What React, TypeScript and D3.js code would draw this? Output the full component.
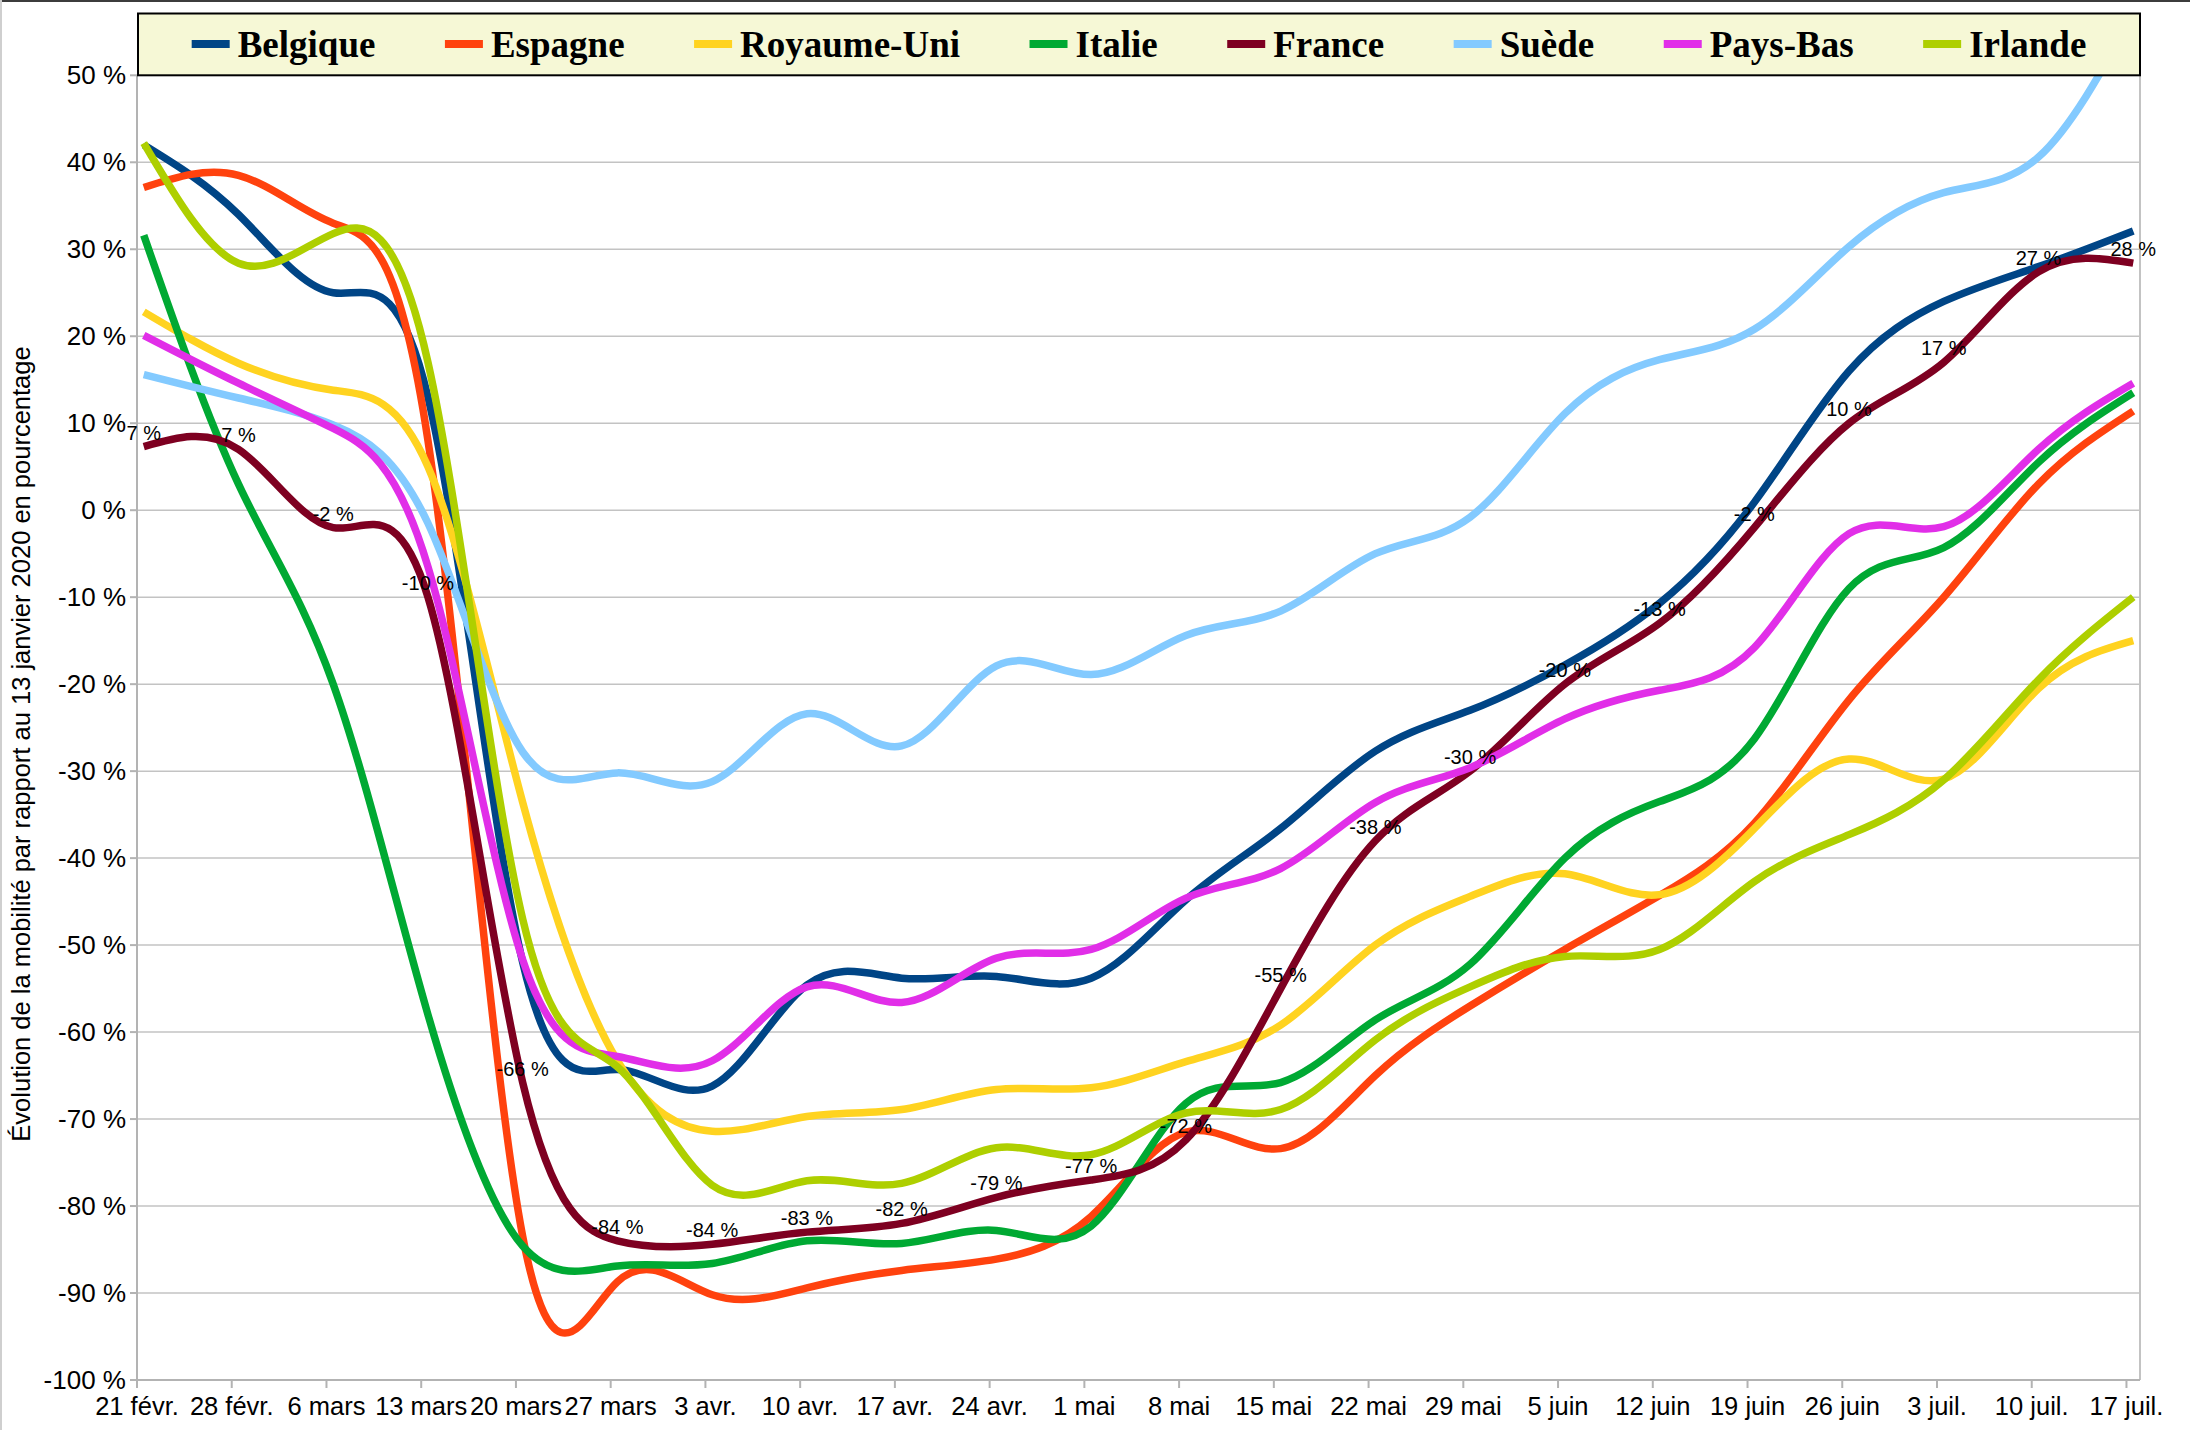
import React, { useEffect } from "react";
import * as d3 from "d3";

const CATEGORIES = [
  "21 févr.", "28 févr.", "6 mars", "13 mars", "20 mars", "27 mars", "3 avr.",
  "10 avr.", "17 avr.", "24 avr.", "1 mai", "8 mai", "15 mai", "22 mai",
  "29 mai", "5 juin", "12 juin", "19 juin", "26 juin", "3 juil.", "10 juil.", "17 juil.",
];

const BELGIQUE = [42, 34, 25, 13, -52, -64.3, -66.2, -54.6, -53.8, -53.6, -53.8, -44.8, -36.6, -27.7, -23, -17.8, -10.7, 0.9, 16, 24, 28, 32.1];
const ESPAGNE = [37.1, 38.5, 33, 8, -83.5, -88.7, -90.2, -89.4, -87.4, -86.1, -81.2, -71.5, -73.4, -65, -57, -50.5, -44.3, -36, -21.8, -10, 3, 11.4];
const ROYAUME_UNI = [22.8, 16.9, 13.8, 5, -33.6, -63.3, -71.4, -69.7, -68.9, -66.6, -66.4, -63.4, -59.2, -50, -44.4, -41.8, -44.2, -36.6, -28.6, -30.9, -20.5, -15];
const ITALIE = [31.6, 3, -20, -58, -84.6, -86.9, -86.6, -84, -84.3, -82.8, -82.3, -68.2, -65.8, -58.6, -52.2, -40, -33.5, -26.3, -9, -4.3, 5.5, 13.5];
const FRANCE = [7.3, 7, -2, -10, -65.8, -84, -84.4, -83, -82, -79, -77, -72.4, -55, -38, -30, -20, -13, -2, 10, 17, 27.4, 28.4];
const SUEDE = [15.6, 12.9, 9.8, -1.5, -27.8, -30.2, -31.2, -23.4, -27.1, -17.9, -18.9, -14.4, -11.6, -5, -0.8, 11.1, 17.3, 20.8, 30.3, 36.5, 40.6, 57];
const PAYS_BAS = [20.1, 14.6, 9.4, -6.5, -51.7, -62.8, -63.3, -54.8, -56.6, -51.5, -50.5, -44.6, -41.2, -33.6, -29.6, -24, -20.7, -15.8, -2.7, -1.9, 7, 14.6];
const IRLANDE = [42.2, 28.4, 31.8, 17, -47, -64, -77.6, -77.1, -77.4, -73.3, -74.1, -69.3, -68.9, -60.9, -54.8, -51.3, -50.5, -42.7, -37.3, -31, -19.5, -10];

const SERIES_NAMES = ["Belgique", "Espagne", "Royaume-Uni", "Italie", "France", "Suède", "Pays-Bas", "Irlande"];
const SERIES_VALUES = [BELGIQUE, ESPAGNE, ROYAUME_UNI, ITALIE, FRANCE, SUEDE, PAYS_BAS, IRLANDE];
const SERIES_COLORS = ["#004586", "#ff420e", "#ffd320", "#00a933", "#7e0021", "#83caff", "#e12ee8", "#aecf00"];
const LABELLED_SERIES = "France";

const Y_TICKS = d3.range(-100, 51, 10);
const Y_TITLE = "Évolution de la mobilité par rapport au 13 janvier 2020 en pourcentage";

const W = 2190;
const H = 1430;
const M = { left: 137, right: 2140, top: 75.3, bottom: 1380 };
const DAY = 86400000;
const START = Date.UTC(2020, 1, 21);

function measure(text: string, font: string): number {
  const c = document.createElement("canvas");
  const ctx = c.getContext("2d")!;
  ctx.font = font;
  return ctx.measureText(text).width;
}

export default function App() {
  useEffect(() => {
    document.body.style.margin = "0";
  }, []);

  const tickDates = CATEGORIES.map((_, i) => new Date(START + i * 7 * DAY));
  const pointDates = tickDates.map((d) => new Date(d.getTime() + DAY / 2));

  const x = d3.scaleUtc().domain([new Date(START), new Date(START + 148 * DAY)]).range([M.left, M.right]);
  const y = d3.scaleLinear().domain([-100, 50]).range([M.bottom, M.top]);

  const line = d3
    .line<number>()
    .x((_, i) => x(pointDates[i]))
    .y((v) => y(v))
    .curve(d3.curveNatural);

  // legend layout
  const legendFont = "bold 37px 'Liberation Serif'";
  const symW = 38;
  const symGap = 8;
  const itemGap = 69.5;
  const widths = SERIES_NAMES.map((n) => measure(n, legendFont));
  const total = widths.reduce((a, w) => a + symW + symGap + w, 0) + itemGap * (SERIES_NAMES.length - 1);
  const legendLeft = M.left + 1;
  const legendRight = M.right;
  let cursor = (legendLeft + legendRight) / 2 - total / 2;
  const legendItems = SERIES_NAMES.map((n, i) => {
    const item = { name: n, color: SERIES_COLORS[i], x: cursor };
    cursor += symW + symGap + widths[i] + itemGap;
    return item;
  });

  const labelIdx = SERIES_NAMES.indexOf(LABELLED_SERIES);
  const labelVals = SERIES_VALUES[labelIdx];

  return (
    <svg width={W} height={H} style={{ display: "block", position: "absolute", left: 0, top: 0, background: "#fff" }}>
      <rect x={0} y={0} width={W} height={H} fill="#ffffff" />
      <line x1={0} x2={W} y1={1} y2={1} stroke="#3c3c3c" strokeWidth={2} />
      <line x1={1} x2={1} y1={0} y2={H} stroke="#cfcfcf" strokeWidth={2} />
      <defs>
        <clipPath id="plotClip">
          <rect x={M.left} y={M.top} width={M.right - M.left} height={M.bottom - M.top} />
        </clipPath>
      </defs>

      {/* gridlines */}
      {Y_TICKS.map((t) => (
        <line key={"g" + t} x1={M.left} x2={M.right} y1={y(t)} y2={y(t)} stroke="#c3c3c3" strokeWidth={1.5} />
      ))}
      {/* right border */}
      <line x1={M.right} x2={M.right} y1={M.top} y2={M.bottom} stroke="#c3c3c3" strokeWidth={2} />
      {/* y axis */}
      <line x1={M.left} x2={M.left} y1={M.top} y2={M.bottom + 8} stroke="#b3b3b3" strokeWidth={2} />
      {Y_TICKS.map((t) => (
        <g key={"yt" + t}>
          <line x1={M.left - 7} x2={M.left} y1={y(t)} y2={y(t)} stroke="#b3b3b3" strokeWidth={2} />
          <text
            x={M.left - 11}
            y={y(t)}
            dy="0.35em"
            textAnchor="end"
            fontFamily="'Liberation Sans', Arial, sans-serif"
            fontSize={26}
            fill="#000"
          >
            {`${t} %`}
          </text>
        </g>
      ))}
      {/* x axis */}
      <line x1={M.left} x2={M.right} y1={M.bottom} y2={M.bottom} stroke="#b3b3b3" strokeWidth={2} />
      {tickDates.map((d, i) => (
        <g key={"xt" + i}>
          <line x1={x(d)} x2={x(d)} y1={M.bottom} y2={M.bottom + 8} stroke="#b3b3b3" strokeWidth={2} />
          <text
            x={x(d)}
            y={1415}
            textAnchor="middle"
            fontFamily="'Liberation Sans', Arial, sans-serif"
            fontSize={25.5}
            fill="#000"
          >
            {CATEGORIES[i]}
          </text>
        </g>
      ))}

      {/* y title */}
      <text
        transform={`translate(30, ${744}) rotate(-90)`}
        textAnchor="middle"
        fontFamily="'Liberation Sans', Arial, sans-serif"
        fontSize={25.5}
        fill="#000"
      >
        {Y_TITLE}
      </text>

      {/* series */}
      <g clipPath="url(#plotClip)">
        {SERIES_VALUES.map((vals, i) => (
          <path
            key={SERIES_NAMES[i]}
            d={line(vals) || ""}
            fill="none"
            stroke={SERIES_COLORS[i]}
            strokeWidth={7.5}
            strokeLinejoin="round"
          />
        ))}
      </g>

      {/* data labels */}
      {labelVals.map((v, i) => (
        <text
          key={"lab" + i}
          x={x(pointDates[i])}
          y={y(v) - 7}
          textAnchor="middle"
          fontFamily="'Liberation Sans', Arial, sans-serif"
          fontSize={20}
          fill="#000"
        >
          {`${Math.round(v)} %`}
        </text>
      ))}

      {/* legend */}
      <rect
        x={legendLeft}
        y={13.5}
        width={legendRight - legendLeft}
        height={M.top - 13.5}
        fill="#f6f8d6"
        stroke="#000"
        strokeWidth={2}
      />
      {legendItems.map((it) => (
        <g key={"leg" + it.name}>
          <rect x={it.x} y={40} width={symW} height={8} fill={it.color} />
          <text
            x={it.x + symW + symGap}
            y={57}
            fontFamily="'Liberation Serif', 'Times New Roman', serif"
            fontWeight="bold"
            fontSize={37}
            fill="#000"
          >
            {it.name}
          </text>
        </g>
      ))}
    </svg>
  );
}
